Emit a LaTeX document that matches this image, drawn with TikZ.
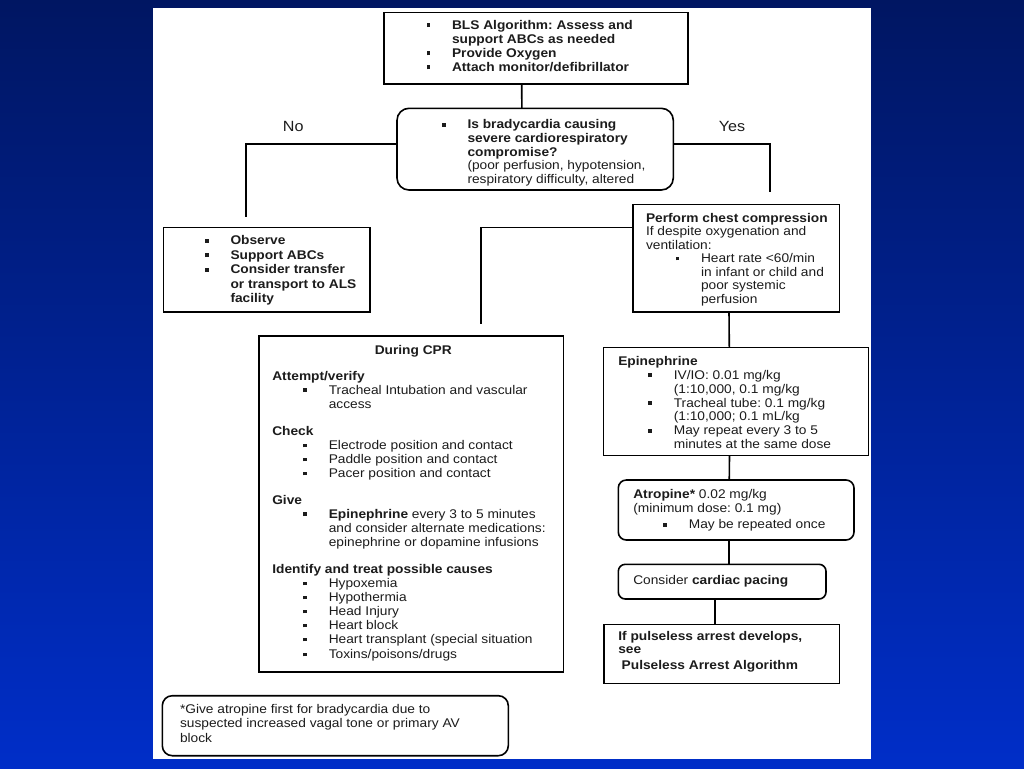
\documentclass[tikz,border=0pt]{standalone}
\usepackage{fontspec}
\setmainfont{Liberation Sans}[FakeStretch=1.09]
\usetikzlibrary{calc}
\definecolor{bgtop}{RGB}{0,22,98}
\definecolor{bgbot}{RGB}{0,46,200}
\definecolor{txtc}{RGB}{28,28,28}
\newcommand\bul{\makebox[25.5pt][l]{\rule[2.2pt]{3.9pt}{3.9pt}}}
\newcommand\ind[1]{\hspace*{#1pt}}
\newcommand\tb[2]{\parbox[t]{330pt}{\raggedright\frenchspacing\fontsize{12.6}{#1}\selectfont #2}}
\begin{document}
\frenchspacing
\begin{tikzpicture}[x=1pt,y=-1pt,
  box/.style={draw=black,line width=1.6pt,fill=white,inner sep=0,outer sep=0,anchor=north west},
  rbox/.style={box,rounded corners=#1},
  txt/.style={inner sep=0,outer sep=0,anchor=base west,text=txtc,yshift=-2pt},
  lbl/.style={inner sep=0,outer sep=0,text=txtc,font=\fontsize{14.8}{16}\selectfont},
  conn/.style={draw=black,line width=1.6pt}]
\shade[top color=bgtop,bottom color=bgbot] (0,0) rectangle (1024,768);
\useasboundingbox (0,0) rectangle (1024,768);
\fill[white] (153,8) rectangle (871,759);

% boxes
\node[box,minimum width=304pt,minimum height=71.3pt] (top) at (384,12.7) {};
\node[rbox=12pt,minimum width=276.3pt,minimum height=81.7pt] (dec) at (397,108.3) {};
\node[box,minimum width=206.7pt,minimum height=84.4pt] (obs) at (163.3,227.3) {};
\node[box,minimum width=206.6pt,minimum height=107.4pt] (chest) at (632.7,204.3) {};
\node[box,minimum width=304.3pt,minimum height=335.7pt] (cpr) at (259,336) {};
\node[box,minimum width=265pt,minimum height=108pt] (epi) at (603.5,347.5) {};
\node[rbox=8pt,minimum width=235.7pt,minimum height=60pt] (atr) at (618.3,480) {};
\node[rbox=7pt,minimum width=207.7pt,minimum height=34.7pt] (pace) at (618.3,564.3) {};
\node[box,minimum width=235.3pt,minimum height=59pt] (pulse) at (604,624.3) {};
\node[rbox=10pt,minimum width=346pt,minimum height=60pt] (foot) at (162.3,695.7) {};

% connectors
\coordinate (noend) at (246,216.7);
\coordinate (yesend) at (770,192);
\coordinate (cprend) at (481,324);
\draw[conn] ([xshift=-14.3pt]top.south) -- ([xshift=-13.3pt]dec.north);
\draw[conn] ([yshift=5pt]dec.west) -| (noend);
\draw[conn] ([yshift=5pt]dec.east) -| (yesend);
\draw[conn] ([yshift=30.7pt]chest.west) -| (cprend);
\draw[conn] ([xshift=-7pt]chest.south) -- ([xshift=-6.7pt]epi.north);
\draw[conn] ([xshift=-6.5pt]epi.south) -- ([xshift=-6.9pt]atr.north);
\draw[conn] ([xshift=-6.9pt]atr.south) -- ([xshift=7.1pt]pace.north);
\draw[conn] ([xshift=-7.2pt]pace.south) -- ([xshift=-6.7pt]pulse.north);

% labels
\node[lbl] (no) at (293.3,126.7) {No};
\node[lbl] (yes) at (732,126.7) {Yes};

% texts
\node[txt,yshift=2pt] (ttop) at (426.5,29.3) {\tb{14.1}{\bfseries\bul BLS Algorithm: Assess and\\
 \ind{25.5}support ABCs as needed\\
 \bul Provide Oxygen\\
 \bul Attach monitor/defibrillator}};

\node[txt,yshift=1pt] (tdec) at (442,127.7) {\tb{13.7}{\bfseries\bul Is bradycardia causing\\
 \ind{25.5}severe cardiorespiratory\\
 \ind{25.5}compromise?\\
 \ind{25.5}\mdseries (poor perfusion, hypotension,\\
 \ind{25.5}respiratory difficulty, altered}};

\node[txt] (tobs) at (205,242.7) {\tb{14.5}{\bfseries\bul Observe\\
 \bul Support ABCs\\
 \bul Consider transfer\\
 \ind{25.5}or transport to ALS\\
 \ind{25.5}facility}};

\node[txt,yshift=1pt] (tchest) at (646,221) {\tb{13.55}{\textbf{Perform chest compression}\\
 If despite oxygenation and\\
 ventilation:\\
 \ind{29.5}\bul Heart rate <60/min\\
 \ind{55}in infant or child and\\
 \ind{55}poor systemic\\
 \ind{55}perfusion}};

\node[txt,anchor=base] (tcprh) at (413.3,352.7) {\fontsize{12.6}{14}\selectfont\bfseries During CPR};
\node[txt,yshift=1pt] (tcpr) at (272.3,379.3) {\tb{14}{\textbf{Attempt/verify}\\
 \ind{31}\bul Tracheal Intubation and vascular\\
 \ind{56.5}access\\[13.3pt]
 \textbf{Check}\\
 \ind{31}\bul Electrode position and contact\\
 \ind{31}\bul Paddle position and contact\\
 \ind{31}\bul Pacer position and contact\\[12.8pt]
 \textbf{Give}\\
 \ind{31}\bul \textbf{Epinephrine} every 3 to 5 minutes\\
 \ind{56.5}and consider alternate medications:\\
 \ind{56.5}epinephrine or dopamine infusions\\[13.2pt]
 \textbf{Identify and treat possible causes}\\
 \ind{31}\bul Hypoxemia\\
 \ind{31}\bul Hypothermia\\
 \ind{31}\bul Head Injury\\
 \ind{31}\bul Heart block\\
 \ind{31}\bul Heart transplant (special situation\\[1pt]
 \ind{31}\bul Toxins/poisons/drugs}};

\node[txt] (tepi) at (618.3,363.3) {\tb{13.9}{\textbf{Epinephrine}\\
 \ind{30}\bul IV/IO: 0.01 mg/kg\\
 \ind{55.5}(1:10,000, 0.1 mg/kg\\
 \ind{30}\bul Tracheal tube: 0.1 mg/kg\\
 \ind{55.5}(1:10,000; 0.1 mL/kg\\
 \ind{30}\bul May repeat every 3 to 5\\
 \ind{55.5}minutes at the same dose}};

\node[txt] (tatr) at (633.3,496.7) {\tb{13.4}{\textbf{Atropine*} 0.02 mg/kg\\
 (minimum dose: 0.1 mg)\\[3.2pt]
 \ind{30}\bul May be repeated once}};

\node[txt] (tpace) at (633.3,582.3) {\fontsize{12.6}{14}\selectfont Consider \textbf{cardiac pacing}};

\node[txt] (tpulse) at (618.3,638.3) {\tb{13.4}{\bfseries If pulseless arrest develops,\\
 see\\[2.2pt]
 \ind{3.4}Pulseless Arrest Algorithm}};

\node[txt] (tfoot) at (180,711.7) {\tb{14.2}{*Give atropine first for bradycardia due to\\
 suspected increased vagal tone or primary AV\\
 block}};
\end{tikzpicture}
\end{document}
